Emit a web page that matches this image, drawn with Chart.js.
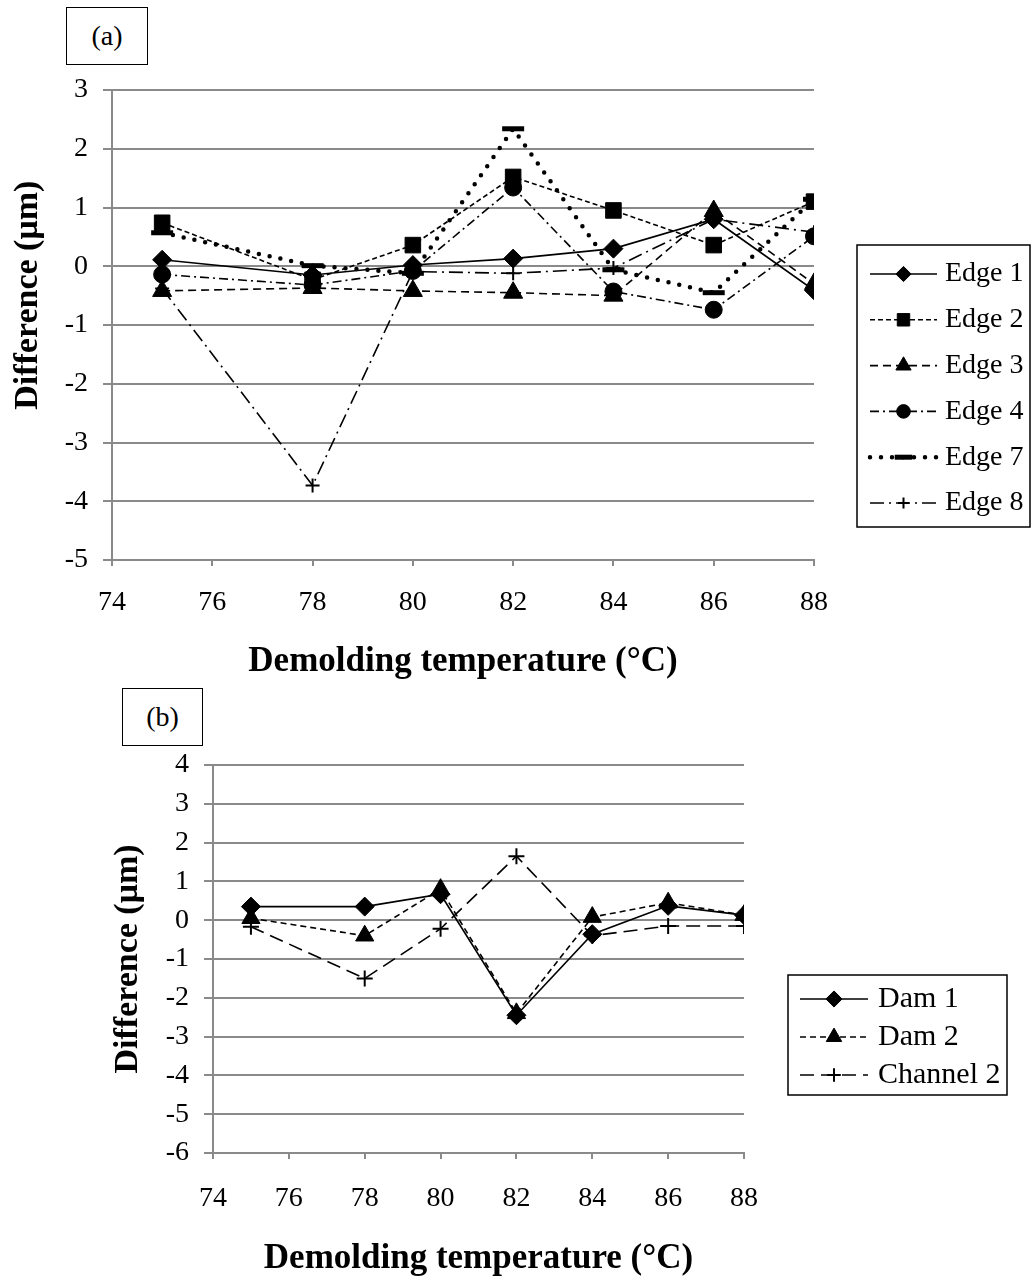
<!DOCTYPE html>
<html>
<head>
<meta charset="utf-8">
<script src="https://cdn.jsdelivr.net/npm/chart.js@4.4.1/dist/chart.umd.min.js"></script>
<style>
  body { margin: 0; background: #fff; width: 1035px; height: 1280px; position: relative; overflow: hidden;
         font-family: "Liberation Serif", "Times New Roman", serif; }
  canvas { position: absolute; left: 0; }
  #chartA { top: 0; }
  #chartB { top: 680px; }
  .tag { position: absolute; border: 1.5px solid #000; box-sizing: border-box; font-size: 28px;
         display: flex; align-items: center; justify-content: center; background: #fff; }
</style>
</head>
<body>
<canvas id="chartA" width="1035" height="700"></canvas>
<canvas id="chartB" width="1035" height="600"></canvas>
<div class="tag" style="left:66px;top:7px;width:82px;height:58px;">(a)</div>
<div class="tag" style="left:122px;top:688px;width:81px;height:58px;">(b)</div>
<script>
// demolding temperatures (°C)
const temps = [75, 78, 80, 82, 84, 86, 88];

// (a) edges, difference in µm
const edge1 = [0.11, -0.15, 0.02, 0.13, 0.3, 0.8, -0.41];
const edge2 = [0.74, -0.23, 0.36, 1.52, 0.95, 0.36, 1.1];
const edge3 = [-0.42, -0.37, -0.42, -0.45, -0.5, 0.94, -0.3];
const edge4 = [-0.14, -0.32, -0.08, 1.34, -0.43, -0.74, 0.51];
const edge7 = [0.57, 0.01, -0.12, 2.34, -0.06, -0.45, 1.14];
const edge8 = [-0.38, -3.73, -0.09, -0.12, -0.03, 0.8, 0.58];

// (b) dams and channel
const dam1 = [0.35, 0.35, 0.67, -2.45, -0.36, 0.37, 0.13];
const dam2 = [0.05, -0.4, 0.8, -2.4, 0.08, 0.45, 0.13];
const channel2 = [-0.17, -1.5, -0.22, 1.65, -0.4, -0.15, -0.15];

const xTitle = 'Demolding temperature (°C)';
const yTitle = 'Difference (μm)';
// title in (a) sits a bit higher than the middle of the axis
const yTitleA = '\u00A0'.repeat(7) + yTitle;

const SERIF = '"Liberation Serif", "Times New Roman", serif';
const GRID = '#8a8a8a';

function makeSet(label, vals, style) {
  return Object.assign({
    label: label,
    data: temps.map((t, i) => ({ x: t, y: vals[i] })),
    borderColor: '#000',
    backgroundColor: '#000',
    pointBackgroundColor: '#000',
    pointBorderColor: '#000',
    borderWidth: 1.6,
    pointBorderWidth: 1,
    tension: 0,
    fill: false
  }, style);
}

// legend drawn in a box with line sample + marker
const boxLegend = {
  id: 'boxLegend',
  afterDraw(chart, args, opts) {
    const ctx = chart.ctx;
    ctx.save();
    ctx.strokeStyle = '#000';
    ctx.lineWidth = 1.5;
    ctx.strokeRect(opts.x, opts.y, opts.w, opts.h);
    chart.data.datasets.forEach((ds, i) => {
      const cy = opts.firstRow + i * opts.rowGap;
      ctx.save();
      ctx.strokeStyle = '#000';
      ctx.lineWidth = ds.borderWidth;
      ctx.lineCap = ds.borderCapStyle || 'butt';
      ctx.setLineDash(ds.borderDash || []);
      ctx.beginPath();
      ctx.moveTo(opts.lineX0, cy);
      ctx.lineTo(opts.lineX1, cy);
      ctx.stroke();
      ctx.restore();

      ctx.save();
      ctx.fillStyle = '#000';
      ctx.strokeStyle = '#000';
      ctx.lineWidth = ds.pointBorderWidth;
      Chart.helpers.drawPoint(ctx, {
        pointStyle: ds.pointStyle,
        radius: ds.pointRadius * opts.markScale,
        rotation: 0,
        borderWidth: ds.pointBorderWidth
      }, (opts.lineX0 + opts.lineX1) / 2, cy);
      ctx.restore();

      ctx.fillStyle = '#000';
      ctx.font = opts.font;
      ctx.textBaseline = 'middle';
      ctx.textAlign = 'left';
      ctx.fillText(ds.label, opts.textX, cy);
    });
    ctx.restore();
  }
};

function makeOptions(cfg) {
  return {
    responsive: false,
    animation: false,
    devicePixelRatio: 1,
    events: [],
    layout: { padding: { left: 0, right: cfg.padRight, top: cfg.padTop, bottom: 0 } },
    plugins: {
      legend: { display: false },
      tooltip: { enabled: false },
      boxLegend: cfg.legend
    },
    scales: {
      x: {
        type: 'linear',
        min: 74, max: 88,
        afterFit: s => { s.height = cfg.xHeight; },
        ticks: { stepSize: 2, color: '#000', padding: cfg.xTickPad, font: { family: SERIF, size: 28 } },
        grid: { drawOnChartArea: false, drawTicks: true, tickLength: 6, color: GRID, lineWidth: 2 },
        border: { display: true, color: GRID, width: 2 },
        title: { display: true, text: xTitle, color: '#000',
                 font: { family: SERIF, size: 35, weight: 'bold' },
                 padding: { top: 0, bottom: cfg.xTitlePad } }
      },
      y: {
        min: cfg.yMin, max: cfg.yMax,
        afterFit: s => { s.width = cfg.yWidth; },
        ticks: { stepSize: 1, color: '#000', padding: 15, font: { family: SERIF, size: 28 } },
        grid: { color: GRID, lineWidth: 2, tickLength: 9 },
        border: { display: true, color: GRID, width: 2 },
        title: { display: true, text: cfg.yText, color: '#000',
                 font: { family: SERIF, size: 34, weight: 'bold' },
                 padding: { top: cfg.yTitlePad, bottom: 0 } }
      }
    }
  };
}

new Chart(document.getElementById('chartA'), {
  type: 'line',
  data: {
    datasets: [
      makeSet('Edge 1', edge1, { pointStyle: 'rectRot', pointRadius: 9.5 }),
      makeSet('Edge 2', edge2, { pointStyle: 'rect', pointRadius: 11, borderDash: [5, 3] }),
      makeSet('Edge 3', edge3, { pointStyle: 'triangle', pointRadius: 11, borderDash: [8, 5] }),
      makeSet('Edge 4', edge4, { pointStyle: 'circle', pointRadius: 8.5, borderDash: [9, 4, 2, 4] }),
      makeSet('Edge 7', edge7, { pointStyle: 'line', pointRadius: 11, pointBorderWidth: 5,
                                 borderWidth: 4.5, borderDash: [0, 11], borderCapStyle: 'round' }),
      makeSet('Edge 8', edge8, { pointStyle: 'cross', pointRadius: 7, pointBorderWidth: 2,
                                 borderDash: [14, 5, 2, 5] })
    ]
  },
  options: makeOptions({
    padRight: 221, padTop: 90, xHeight: 140, yWidth: 112, yText: yTitleA,
    xTickPad: 20, xTitlePad: 17, yTitlePad: 8, yMin: -5, yMax: 3,
    legend: { x: 857, y: 245, w: 173, h: 282, firstRow: 274, rowGap: 45.8,
              lineX0: 870, lineX1: 937, textX: 945, markScale: 0.8,
              font: '28px ' + SERIF }
  }),
  plugins: [boxLegend]
});

new Chart(document.getElementById('chartB'), {
  type: 'line',
  data: {
    datasets: [
      makeSet('Dam 1', dam1, { pointStyle: 'rectRot', pointRadius: 9.5 }),
      makeSet('Dam 2', dam2, { pointStyle: 'triangle', pointRadius: 10.5, borderDash: [6, 4] }),
      makeSet('Channel 2', channel2, { pointStyle: 'cross', pointRadius: 8, pointBorderWidth: 2,
                                       borderDash: [14, 7] })
    ]
  },
  options: makeOptions({
    padRight: 291, padTop: 85, xHeight: 127, yWidth: 213, yText: yTitle,
    xTickPad: 23, xTitlePad: 0, yTitlePad: 108, yMin: -6, yMax: 4,
    legend: { x: 788, y: 295, w: 219, h: 120, firstRow: 319, rowGap: 38,
              lineX0: 800, lineX1: 868, textX: 878, markScale: 0.85,
              font: '30px ' + SERIF }
  }),
  plugins: [boxLegend]
});
</script>
</body>
</html>
